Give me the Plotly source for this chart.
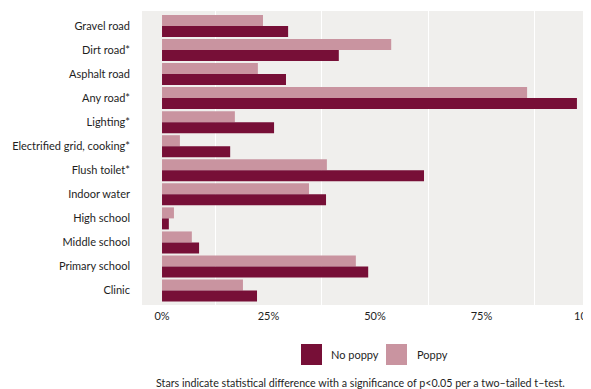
import plotly.graph_objects as go

categories = ["Gravel road", "Dirt road*", "Asphalt road", "Any road*", "Lighting*",
              "Electrified grid, cooking*", "Flush toilet*", "Indoor water", "High school",
              "Middle school", "Primary school", "Clinic"]
poppy = [23.7, 53.8, 22.5, 85.7, 17.1, 4.2, 38.7, 34.5, 2.8, 7.0, 45.5, 19.0]
no_poppy = [29.6, 41.5, 29.1, 97.4, 26.3, 16.0, 61.5, 38.5, 1.6, 8.7, 48.4, 22.3]
tick_vals = [0, 25, 50, 75, 100]
tick_text = ["0%", "25%", "50%", "75%", "100%"]

DARK = "#770f37"
LIGHT = "#c994a0"
FONT = "Lato"
TXT = "#1e1e1e"

# page body has an 8px margin; figure placed so the panel spans x 142..591, y 11..305 in the window
OFF = 8

fig = go.Figure()
fig.add_trace(go.Bar(y=categories, x=poppy, orientation="h", name="Poppy",
                     marker=dict(color=LIGHT, line=dict(width=0))))
fig.add_trace(go.Bar(y=categories, x=no_poppy, orientation="h", name="No poppy",
                     marker=dict(color=DARK, line=dict(width=0))))

fig.update_layout(
    width=591 - OFF, height=389 - OFF,
    margin=dict(l=142 - OFF, r=0, t=11 - OFF, b=84),
    paper_bgcolor="white", plot_bgcolor="#f0efed",
    barmode="group", bargap=0.085, bargroupgap=0,
    showlegend=False,
    font=dict(family=FONT, size=11, color=TXT),
)
fig.update_xaxes(range=[-4.7, 100.7], tickvals=tick_vals, ticktext=tick_text,
                 showgrid=False, zeroline=False, ticks="", showline=False,
                 automargin=False, ticklabelstandoff=3, ticklabeloverflow="allow",
                 minor=dict(tick0=12.5, dtick=25, showgrid=True, gridcolor="white",
                            gridwidth=1.3, ticks=""),
                 tickfont=dict(family=FONT, size=11, color=TXT))
fig.update_yaxes(categoryorder="array", categoryarray=categories,
                 range=[11.6, -0.62], showgrid=False, zeroline=False, ticks="",
                 automargin=False, ticklabelstandoff=11,
                 tickfont=dict(family=FONT, size=11, color=TXT))

# legend keys (window-pixel positions converted to paper fractions of the 449x294 panel)
legend_items = [("No poppy", DARK, 301, 329), ("Poppy", LIGHT, 386, 415)]
for name, col, x0, tx in legend_items:
    fig.add_shape(type="rect", xref="paper", yref="paper",
                  x0=(x0 - 142) / 449, x1=(x0 + 21 - 142) / 449,
                  y0=(305 - 365) / 294, y1=(305 - 344) / 294,
                  fillcolor=col, line=dict(width=0))
    fig.add_annotation(text=name, xref="paper", yref="paper",
                       x=(tx - 142) / 449, y=(305 - 354.5) / 294,
                       xanchor="left", yanchor="middle", showarrow=False,
                       font=dict(family=FONT, size=11, color=TXT))

fig.add_annotation(text="Stars indicate statistical difference with a significance of p<0.05 per a two\u2013tailed t\u2013test.",
                   xref="paper", yref="paper", x=(154 - 142) / 449, y=(305 - 382) / 294,
                   xanchor="left", yanchor="middle", showarrow=False,
                   font=dict(family=FONT, size=10.7, color=TXT))

fig.write_html("out.html")
